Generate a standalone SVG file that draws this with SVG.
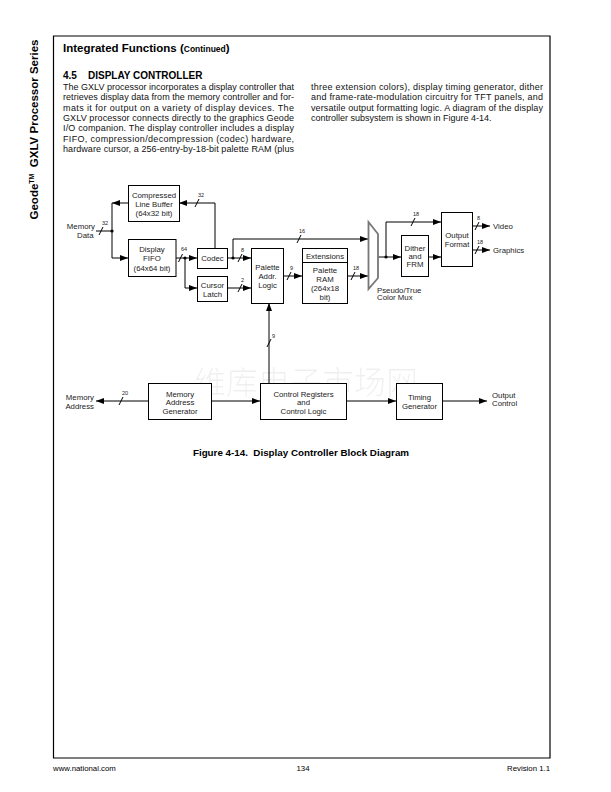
<svg xmlns="http://www.w3.org/2000/svg" width="611" height="792" viewBox="0 0 611 792">
<defs>
<marker id="ah" markerWidth="8" markerHeight="6" refX="8" refY="3" orient="auto" markerUnits="userSpaceOnUse"><path d="M0,0 L8,3 L0,6 z" fill="#000"/></marker>
<style>
.f{font-family:"Liberation Sans",Arial,sans-serif;fill:#000}
.b{font-weight:bold}
.box{fill:#fff;stroke:#000;stroke-width:1}
.t{font-family:"Liberation Sans",Arial,sans-serif;font-size:7.8px;text-anchor:middle;fill:#222}
.l{font-family:"Liberation Sans",Arial,sans-serif;font-size:7.8px;fill:#222}
.s{font-family:"Liberation Sans",Arial,sans-serif;font-size:5.5px;fill:#222}
.w{fill:none;stroke:#000;stroke-width:1}
.a{marker-end:url(#ah)}
.body{font-family:"Liberation Sans",Arial,sans-serif;font-size:9px;fill:#111}
</style>
</defs>
<rect width="611" height="792" fill="#fff"/>
<!-- page frame -->
<path d="M53.5,36 H550 V758 H53.5 Z" fill="none" stroke="#000" stroke-width="1.2"/>
<!-- side title -->
<text class="f b" transform="translate(37.5,129.5) rotate(-90)" text-anchor="middle" font-size="11.5">Geode<tspan font-size="7" dy="-4">TM</tspan><tspan dy="4" xml:space="preserve">  GXLV Processor Series</tspan></text>
<!-- header -->
<text class="f b" x="63" y="51.5" font-size="11.5">Integrated Functions <tspan>(</tspan><tspan font-size="8.5">Continued</tspan><tspan>)</tspan></text>
<text class="f b" x="63" y="78.5" font-size="10">4.5</text>
<text class="f b" x="88" y="78.5" font-size="10">DISPLAY CONTROLLER</text>
<g class="body">
<text x="63" y="90" textLength="231" lengthAdjust="spacing">The GXLV processor incorporates a display controller that</text>
<text x="63" y="100.3" textLength="231" lengthAdjust="spacing">retrieves display data from the memory controller and for-</text>
<text x="63" y="110.7" textLength="231" lengthAdjust="spacing">mats it for output on a variety of display devices. The</text>
<text x="63" y="121" textLength="231" lengthAdjust="spacing">GXLV processor connects directly to the graphics Geode</text>
<text x="63" y="131.3" textLength="231" lengthAdjust="spacing">I/O companion. The display controller includes a display</text>
<text x="63" y="141.7" textLength="231" lengthAdjust="spacing">FIFO, compression/decompression (codec) hardware,</text>
<text x="63" y="152" textLength="231" lengthAdjust="spacing">hardware cursor, a 256-entry-by-18-bit palette RAM (plus</text>
<text x="311" y="90" textLength="232" lengthAdjust="spacing">three extension colors), display timing generator, dither</text>
<text x="311" y="100.3" textLength="232" lengthAdjust="spacing">and frame-rate-modulation circuitry for TFT panels, and</text>
<text x="311" y="110.7" textLength="232" lengthAdjust="spacing">versatile output formatting logic. A diagram of the display</text>
<text x="311" y="121">controller subsystem is shown in Figure 4-14.</text>
</g>
<!-- watermark -->
<text x="306" y="394" text-anchor="middle" font-family="Noto Sans CJK SC, sans-serif" font-size="32" font-weight="300" fill="#000" fill-opacity="0.07">维库电子市场网</text>

<!-- connectors -->
<g id="connectors">
<path class="w" d="M96,231 H112"/>
<path class="w a" d="M129,203 H112"/>
<path class="w a" d="M112,203 V258 H128"/>
<path class="w a" d="M176,258 H197"/>
<path class="w a" d="M185,258 V288 H197"/>
<path class="w a" d="M215,248 V203 H179"/>
<path class="w a" d="M228,258 H251"/>
<path class="w a" d="M233,258 V239 H368"/>
<path class="w a" d="M228,288 H251"/>
<path class="w a" d="M283,276 H302"/>
<path class="w a" d="M347,276 H368"/>
<path class="w a" d="M378,257 H401"/>
<path class="w a" d="M386,257 V222 H441"/>
<path class="w a" d="M428,257 H441"/>
<path class="w a" d="M472,226 H490"/>
<path class="w a" d="M472,250 H490"/>
<path class="w a" d="M148,401 H96"/>
<path class="w a" d="M211,401 H260"/>
<path class="w a" d="M269,383 V303"/>
<path class="w a" d="M346,401 H396"/>
<path class="w a" d="M442,401 H487"/>
<!-- junction dots -->
<circle cx="112" cy="231" r="1.6"/>
<circle cx="185" cy="258" r="1.6"/>
<circle cx="233" cy="258" r="1.6"/>
<circle cx="386" cy="257" r="1.6"/>
<!-- bus width slashes -->
<g class="w" stroke-width="0.8">
<path d="M99,235 L103,227"/>
<path d="M178.5,262 L182.5,254"/>
<path d="M195,207 L199,199"/>
<path d="M238,262 L242,254"/>
<path d="M297,243 L301,235"/>
<path d="M238,292 L242,284"/>
<path d="M287,280 L291,272"/>
<path d="M351,280 L355,272"/>
<path d="M411,226 L415,218"/>
<path d="M475,230 L479,222"/>
<path d="M475,254 L479,246"/>
<path d="M119,405 L123,397"/>
<path d="M267,347 L271,339"/>
</g>
<text class="s" x="102" y="225">32</text>
<text class="s" x="181" y="251">64</text>
<text class="s" x="198" y="197">32</text>
<text class="s" x="241" y="252">8</text>
<text class="s" x="299" y="233">16</text>
<text class="s" x="241" y="282">2</text>
<text class="s" x="290" y="270">9</text>
<text class="s" x="353" y="270">18</text>
<text class="s" x="413" y="216">18</text>
<text class="s" x="477" y="220">8</text>
<text class="s" x="477" y="244">18</text>
<text class="s" x="122" y="395">20</text>
<text class="s" x="272" y="338">9</text>
</g>

<!-- external labels -->
<text class="l" x="95" y="228.5" text-anchor="end">Memory</text>
<text class="l" x="77" y="237.5">Data</text>
<text class="l" x="94" y="400" text-anchor="end">Memory</text>
<text class="l" x="94" y="408.5" text-anchor="end">Address</text>
<text class="l" x="493" y="229">Video</text>
<text class="l" x="493" y="253">Graphics</text>
<text class="l" x="492" y="397.5">Output</text>
<text class="l" x="492" y="405.5">Control</text>

<g id="clb">
<rect class="box" x="128.5" y="185.5" width="51" height="36"/>
<text class="t" x="154" y="197.5">Compressed</text>
<text class="t" x="154" y="206.8">Line Buffer</text>
<text class="t" x="154" y="216.1">(64x32 bit)</text>
</g>
<g id="fifo">
<rect class="box" x="128.5" y="239.5" width="47.5" height="37"/>
<text class="t" x="152" y="252">Display</text>
<text class="t" x="152" y="261.3">FIFO</text>
<text class="t" x="152" y="270.6">(64x64 bit)</text>
</g>
<g id="codec">
<rect class="box" x="197.5" y="248.5" width="30" height="20"/>
<text class="t" x="212.5" y="261">Codec</text>
</g>
<g id="cursor">
<rect class="box" x="197.5" y="276.5" width="30" height="25"/>
<text class="t" x="212.5" y="287.5">Cursor</text>
<text class="t" x="212.5" y="296.7">Latch</text>
</g>
<g id="pal">
<rect class="box" x="251.5" y="248.5" width="32" height="55"/>
<text class="t" x="267.5" y="270">Palette</text>
<text class="t" x="267.5" y="279">Addr.</text>
<text class="t" x="267.5" y="288">Logic</text>
</g>
<g id="ram">
<rect class="box" x="302.5" y="248.5" width="45" height="55"/>
<line class="w" x1="302.5" y1="262.5" x2="347.5" y2="262.5"/>
<text class="t" x="325" y="258.5">Extensions</text>
<text class="t" x="325" y="273">Palette</text>
<text class="t" x="325" y="282">RAM</text>
<text class="t" x="325" y="291">(264x18</text>
<text class="t" x="325" y="300">bit)</text>
</g>
<g id="mux">
<path d="M368.5,222 L378,234 V278 L368.5,289 Z" fill="#fff" stroke="#777" stroke-width="1.8"/>
<text class="l" x="377" y="292.5">Pseudo/True</text>
<text class="l" x="377" y="300">Color Mux</text>
</g>
<g id="dither">
<rect class="box" x="401.5" y="235.5" width="27" height="41"/>
<text class="t" x="415" y="250.5">Dither</text>
<text class="t" x="415" y="258.8">and</text>
<text class="t" x="415" y="267">FRM</text>
</g>
<g id="outfmt">
<rect class="box" x="441.5" y="212.5" width="31" height="54"/>
<text class="t" x="457" y="237.5">Output</text>
<text class="t" x="457" y="246.5">Format</text>
</g>
<g id="mag">
<rect class="box" x="148.5" y="383.5" width="63" height="36"/>
<text class="t" x="180" y="396.5">Memory</text>
<text class="t" x="180" y="405">Address</text>
<text class="t" x="180" y="413.5">Generator</text>
</g>
<g id="ctrl">
<rect class="box" x="260.5" y="383.5" width="86" height="36"/>
<text class="t" x="303.5" y="396.5">Control Registers</text>
<text class="t" x="303.5" y="405">and</text>
<text class="t" x="303.5" y="413.5">Control Logic</text>
</g>
<g id="timing">
<rect class="box" x="396.5" y="383.5" width="46" height="36"/>
<text class="t" x="419.5" y="399.5">Timing</text>
<text class="t" x="419.5" y="408.5">Generator</text>
</g>

<text class="f b" x="301" y="456" font-size="9.8" text-anchor="middle" xml:space="preserve">Figure 4-14.  Display Controller Block Diagram</text>

<text class="f" x="53" y="770.5" font-size="7.8" fill="#333">www.national.com</text>
<text class="f" x="303" y="770.5" font-size="7.8" text-anchor="middle" fill="#333">134</text>
<text class="f" x="550" y="770.5" font-size="7.8" text-anchor="end" fill="#333">Revision 1.1</text>
</svg>
